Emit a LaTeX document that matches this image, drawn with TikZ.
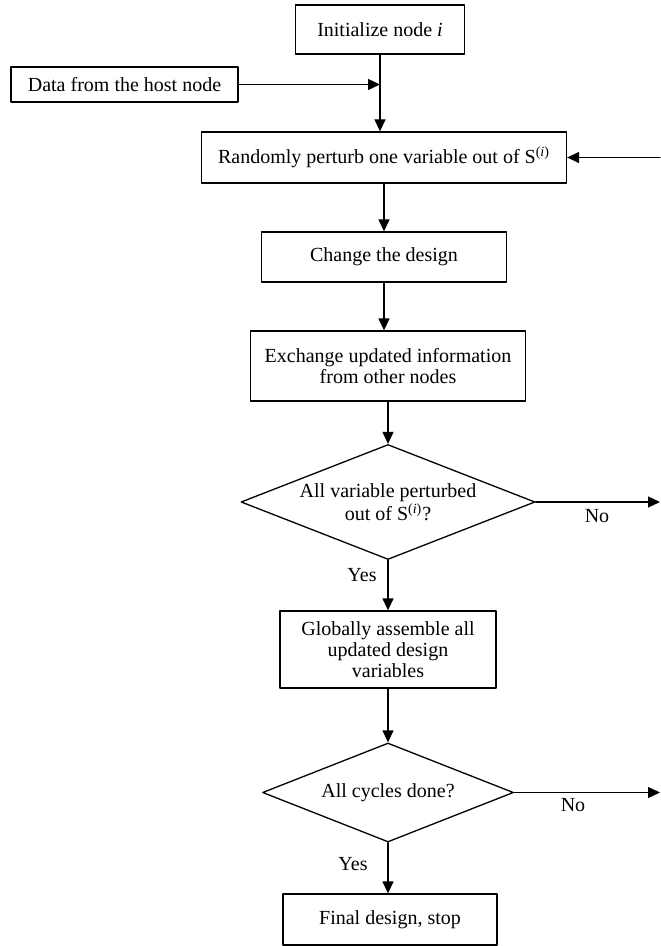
\documentclass[tikz,border=0pt]{standalone}
\usepackage{fontspec}
\setmainfont{Liberation Serif}
\usetikzlibrary{arrows.meta, positioning, shapes.geometric}

\begin{document}
\begin{tikzpicture}[x=0.5pt, y=-0.5pt, line cap=round, line join=round,
  font=\fontsize{10}{10.6}\selectfont,
  box/.style={draw, line width=0.65pt, inner sep=0pt, align=center},
  choice/.style={draw, diamond, line width=0.65pt, inner sep=0pt, align=center},
  flow/.style={line width=0.65pt, -{Triangle[length=6pt, width=5.5pt]}}]

\useasboundingbox (0,0) rectangle (660,946);

% --- Blocchi ---
\node[box, minimum width=84.5pt, minimum height=24.5pt] (init) at (380,29.5) {Initialize node \textit{i}};
\node[box, minimum width=113.5pt, minimum height=17.5pt] (data) at (124.5,84.5) {Data from the host node};
\node[box, minimum width=182.5pt, minimum height=25.5pt] (rand) at (384,157.5) {Randomly perturb one variable out of S\textsuperscript{(\textit{i})}};
\node[box, minimum width=122.5pt, minimum height=25pt] (change) at (384,257) {Change the design};
\node[box, minimum width=137.5pt, minimum height=35pt] (exch) at (388,366) {Exchange updated information\\from other nodes};
\node[choice, aspect=2.55, minimum width=147pt, minimum height=57.5pt] (perturbed) at (388,502) {All variable perturbed\\out of S\textsuperscript{(\textit{i})}?};
\node[box, minimum width=108pt, minimum height=38.5pt] (assemble) at (388,649.5) {Globally assemble all\\updated design\\variables};
\node[choice, aspect=2.54, minimum width=125.5pt, minimum height=49.5pt] (cycles) at (388,792.5) {All cycles done?};
\node[box, minimum width=107pt, minimum height=25.5pt] (final) at (390,919.5) {Final design, stop};

% --- Etichette ---
\node (no1) at (597,516) {No};
\node (yes1) at (362,575) {Yes};
\node (no2) at (573,805) {No};
\node (yes2) at (353,864) {Yes};

% --- Estremi liberi ---
\coordinate (back) at (660,157.5);
\coordinate (out1) at (660,502);
\coordinate (out2) at (660,792.5);

% --- Frecce ---
\draw[flow] (init.south) -- (init.south |- rand.north);
\draw[flow] (data.east) -- (data.east -| init.south);
\draw[flow] (back) -- (rand.east);
\draw[flow] (rand.south) -- (change.north);
\draw[flow] (change.south) -- (change.south |- exch.north);
\draw[flow] (exch.south) -- (perturbed.north);
\draw[flow] (perturbed.east) -- (out1);
\draw[flow] (perturbed.south) -- (assemble.north);
\draw[flow] (assemble.south) -- (cycles.north);
\draw[flow] (cycles.east) -- (out2);
\draw[flow] (cycles.south) -- (cycles.south |- final.north);
\end{tikzpicture}
\end{document}
